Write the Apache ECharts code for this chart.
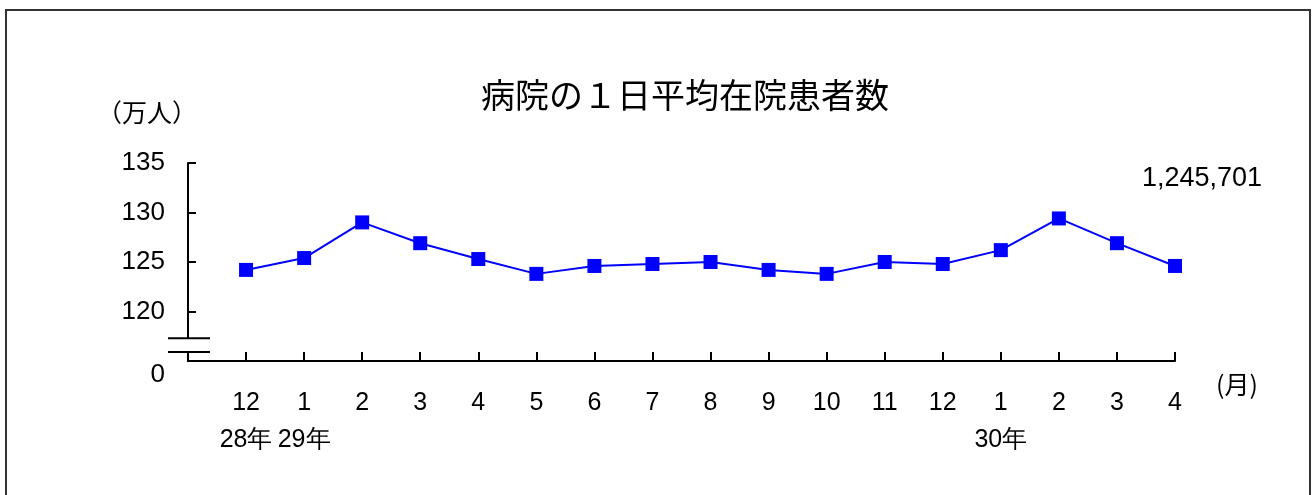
<!DOCTYPE html>
<html>
<head>
<meta charset="utf-8">
<script src="https://cdn.jsdelivr.net/npm/echarts@6/dist/echarts.min.js"></script>
<style>
    html, body { margin: 0; padding: 0; background: #fff; }
    #main { width: 1312px; height: 495px; }
</style>
</head>
<body>
<div id="main"></div>
<script>
    // 月（横軸）
    let months = ['12', '1', '2', '3', '4', '5', '6', '7', '8', '9', '10', '11', '12', '1', '2', '3', '4'];
    // 年（月の下に表示）
    let years = ['28年', '29年', '', '', '', '', '', '', '', '', '', '', '', '30年', '', '', ''];
    // 1日平均在院患者数（万人）
    let patients = [124.2, 125.4, 129.0, 126.9, 125.3, 123.8, 124.6, 124.8, 125.0, 124.2, 123.8, 125.0, 124.8, 126.2, 129.4, 126.9, 124.6];
    // 縦軸の目盛
    let yTicks = [115, 120, 125, 130, 135];
    let yTickLabels = ['0', '120', '125', '130', '135'];

    let numFont = '"Liberation Sans", Arial, sans-serif';
    let jpFont = '"Noto Sans CJK JP", sans-serif';

    let myChart = echarts.init(document.getElementById('main'));

    //固定の装飾
    let graphics = [
        // 外枠
        {
            id: 'frame',
            type: 'rect',
            shape: { x: 6, y: 10, width: 1304, height: 500 },
            style: { fill: 'none', stroke: '#333', lineWidth: 2 },
            silent: true
        },
        {
            id: 'total',
            type: 'text',
            right: 1312 - 1262,
            top: 165,
            style: {
                text: '1,245,701',
                font: '27px ' + numFont,
                fill: '#000'
            }
        },
        {
            id: 'unitX',
            type: 'text',
            left: 1216,
            top: 372,
            style: {
                text: '(月)',
                font: '25px ' + jpFont,
                fill: '#000'
            }
        }
    ];

    let option = {
        backgroundColor: '#fff',
        animation: false,
        title: {
            text: '病院の１日平均在院患者数',
            left: 680,
            top: 73,
            textAlign: 'center',
            textStyle: {
                fontFamily: jpFont,
                fontSize: 34,
                fontWeight: 'normal',
                color: '#000'
            }
        },
        grid: {
            left: 188,
            right: 137,
            top: 163,
            bottom: 134
        },
        xAxis: {
            type: 'value',
            min: 0,
            max: months.length,
            interval: 1,
            splitLine: { show: false },
            axisLine: { lineStyle: { color: '#000', width: 2 } },
            axisTick: { inside: true, length: 9, lineStyle: { color: '#000', width: 2 } },
            axisLabel: {
                margin: 24,
                lineHeight: 37,
                fontFamily: numFont,
                fontSize: 25,
                color: '#000',
                formatter: function (v) {
                    let i = v - 1;
                    if (i < 0 || i >= months.length) return '';
                    return years[i] ? months[i] + '\n{y|' + years[i] + '}' : months[i];
                },
                rich: {
                    y: { fontFamily: numFont, fontSize: 25, lineHeight: 37, color: '#000' }
                }
            }
        },
        yAxis: {
            type: 'value',
            min: yTicks[0],
            max: yTicks[yTicks.length - 1],
            interval: 5,
            name: '（万人）',
            nameLocation: 'end',
            nameGap: 0,
            nameTextStyle: {
                fontFamily: jpFont,
                fontSize: 25,
                color: '#000',
                align: 'center',
                padding: [0, 0, 38, -82]
            },
            splitLine: { show: false },
            axisLine: { lineStyle: { color: '#000', width: 2 } },
            axisTick: { inside: true, length: 8, lineStyle: { color: '#000', width: 2 } },
            axisLabel: {
                margin: 23,
                fontFamily: numFont,
                fontSize: 26,
                color: '#000',
                formatter: function (v) {
                    let idx = yTicks.indexOf(v);
                    if (idx === 0) return '{z|' + yTickLabels[0] + '}';
                    return idx >= 0 ? yTickLabels[idx] : '';
                },
                rich: {
                    z: { fontFamily: numFont, fontSize: 26, color: '#000', padding: [28, 0, 0, 0] }
                }
            }
        },
        series: [{
            type: 'line',
            data: patients.map((v, i) => [i + 1, v]),
            symbol: 'rect',
            symbolSize: 14,
            lineStyle: { color: '#0000ff', width: 2 },
            itemStyle: { color: '#0000ff' }
        }],
        graphic: graphics
    };

    myChart.setOption(option);

    // 軸の省略記号（二重線）
    let p1 = myChart.convertToPixel({ gridIndex: 0 }, [0, 117.3]);
    let p2 = myChart.convertToPixel({ gridIndex: 0 }, [0, 115.9]);
    myChart.setOption({
        graphic: graphics.concat([
            {
                id: 'breakGap',
                type: 'rect',
                shape: { x: p1[0] - 3, y: p1[1], width: 6, height: p2[1] - p1[1] },
                style: { fill: '#fff' },
                z: 100
            },
            {
                id: 'breakTop',
                type: 'line',
                shape: { x1: p1[0] - 20, y1: p1[1], x2: p1[0] + 22, y2: p1[1] },
                style: { stroke: '#000', lineWidth: 2 },
                z: 101
            },
            {
                id: 'breakBottom',
                type: 'line',
                shape: { x1: p2[0] - 20, y1: p2[1], x2: p2[0] + 22, y2: p2[1] },
                style: { stroke: '#000', lineWidth: 2 },
                z: 101
            }
        ])
    });
</script>
</body>
</html>
